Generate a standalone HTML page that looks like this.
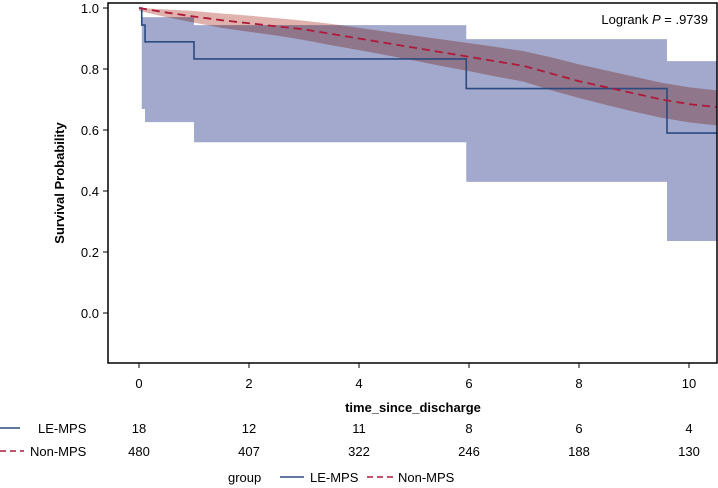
<!DOCTYPE html>
<html><head><meta charset="utf-8"><style>
body{margin:0;background:#fff;font-family:"Liberation Sans",Arial,sans-serif}
svg text{font-family:"Liberation Sans",Arial,sans-serif}
</style></head><body>
<svg id="c" width="718" height="488" xmlns="http://www.w3.org/2000/svg" style="position:absolute;left:0;top:0">
<g id="bands"></g><g id="lines"></g><g id="axes"></g>
</svg>
<script>
// LE-MPS step data
const leTimes=[0,0.05,0.11,1.0,5.95,9.6];
const leSurv=[1.0,0.944,0.889,0.833,0.736,0.59];
const leLower=[1.0,0.669,0.626,0.56,0.43,0.236];
const leUpper=[1.0,0.97,0.97,0.944,0.898,0.826];
// Non-MPS data
const nmTimes=[0,0.5,1,1.5,2,2.5,3,3.5,4,4.5,5,5.5,6,6.5,7,7.5,8,8.5,9,9.5,10,10.5];
const nmSurv=[1.0,0.985,0.972,0.96,0.95,0.94,0.93,0.915,0.90,0.885,0.87,0.855,0.84,0.825,0.81,0.785,0.76,0.74,0.72,0.70,0.685,0.675];
const nmLower=[0.99,0.97,0.952,0.935,0.922,0.91,0.895,0.878,0.862,0.845,0.828,0.81,0.793,0.775,0.758,0.73,0.705,0.682,0.66,0.64,0.625,0.615];
const nmUpper=[1.0,0.995,0.99,0.982,0.975,0.967,0.958,0.948,0.935,0.922,0.91,0.897,0.885,0.872,0.858,0.838,0.815,0.795,0.775,0.755,0.74,0.73];
const xTicks=[0,2,4,6,8,10];
const yTicks=[0.0,0.2,0.4,0.6,0.8,1.0];
const riskLE=[18,12,11,8,6,4];
const riskNM=[480,407,322,246,188,130];
const X0=108,X1=717,Y0=3,Y1=363;
const sx=t=>139+t*55, sy=v=>8+(1-v)*305;
const NS='http://www.w3.org/2000/svg';
function mk(tag,at,parent){const e=document.createElementNS(NS,tag);for(const k in at)e.setAttribute(k,at[k]);document.getElementById(parent).appendChild(e);return e;}
const tEnd=10.5;
function stepBand(ts,lo,hi){let up='',dn=[];for(let i=0;i<ts.length;i++){const t1=i+1<ts.length?ts[i+1]:tEnd;up+=(i?'L':'M')+sx(ts[i])+','+sy(hi[i])+'L'+sx(t1)+','+sy(hi[i]);dn.unshift('L'+sx(t1)+','+sy(lo[i])+'L'+sx(ts[i])+','+sy(lo[i]));}return up+dn.join('')+'Z';}
function stepLine(ts,s){let d='';for(let i=0;i<ts.length;i++){const t1=i+1<ts.length?ts[i+1]:tEnd;d+=(i?'L':'M')+sx(ts[i])+','+sy(s[i])+'L'+sx(t1)+','+sy(s[i]);}return d;}
function smoothBand(ts,lo,hi){let d='';ts.forEach((t,i)=>d+=(i?'L':'M')+sx(t)+','+sy(hi[i]));for(let i=ts.length-1;i>=0;i--)d+='L'+sx(ts[i])+','+sy(lo[i]);return d+'Z';}
function smoothLine(ts,s){let d='';ts.forEach((t,i)=>d+=(i?'L':'M')+sx(t)+','+sy(s[i]));return d;}
let e;
e=mk('path',{d:stepBand(leTimes,leLower,leUpper),fill:'#a3a9cc'},'bands');


e=mk('path',{d:smoothBand(nmTimes,nmLower,nmUpper),fill:'#e0b2ad',style:'mix-blend-mode:multiply'},'bands');


e=mk('path',{d:stepLine(leTimes,leSurv),fill:'none',stroke:'#2b4a80','stroke-width':1.6},'lines');


e=mk('path',{d:smoothLine(nmTimes,nmSurv),fill:'none',stroke:'#b0183a','stroke-width':1.8,'stroke-dasharray':'8,5'},'lines');


e=mk('rect',{x:X0,y:Y0,width:X1-X0,height:Y1-Y0,fill:'none',stroke:'#000','stroke-width':1.5},'axes');


xTicks.forEach((t,i)=>{
 mk('line',{x1:sx(t),x2:sx(t),y1:Y1,y2:Y1+5,stroke:'#000'},'axes');
 e=mk('text',{x:sx(t),y:388,'text-anchor':'middle','font-size':13},'axes');e.textContent=t;
 
 
 e=mk('text',{x:sx(t),y:433,'text-anchor':'middle','font-size':13},'axes');e.textContent=riskLE[i];
 
 
 e=mk('text',{x:sx(t),y:456,'text-anchor':'middle','font-size':13},'axes');e.textContent=riskNM[i];
 
 
});
yTicks.forEach(v=>{
 mk('line',{x1:X0-5,x2:X0,y1:sy(v),y2:sy(v),stroke:'#000'},'axes');
 e=mk('text',{x:X0-9,y:sy(v)+5,'text-anchor':'end','font-size':13},'axes');e.textContent=v.toFixed(1);
 
 
});
</script>
<svg style="position:absolute;left:0;top:0" width="718" height="488">
<text transform="translate(64,183) rotate(-90)" text-anchor="middle" font-size="13" font-weight="bold">Survival Probability</text>
<text x="413" y="412" text-anchor="middle" font-size="13" font-weight="bold">time_since_discharge</text>
<text x="708" y="24" text-anchor="end" font-size="13">Logrank <tspan font-style="italic">P</tspan> = .9739</text>
<g>
<line x1="0" x2="20" y1="428" y2="428" stroke="#2b4a80" stroke-width="1.5"/>
<text x="38" y="433" font-size="13">LE-MPS</text>
<line x1="0" x2="24" y1="451" y2="451" stroke="#b0183a" stroke-width="1.5" stroke-dasharray="6,4"/>
<text x="30" y="456" font-size="13">Non-MPS</text>
</g>
<g>
<text x="228" y="482" font-size="13">group</text>
<line x1="280" x2="304" y1="477" y2="477" stroke="#2b4a80" stroke-width="1.5"/>
<text x="310" y="482" font-size="13">LE-MPS</text>
<line x1="367" x2="393" y1="477" y2="477" stroke="#b0183a" stroke-width="1.5" stroke-dasharray="6,4"/>
<text x="398" y="482" font-size="13">Non-MPS</text>
</g>
</svg>
</body></html>
